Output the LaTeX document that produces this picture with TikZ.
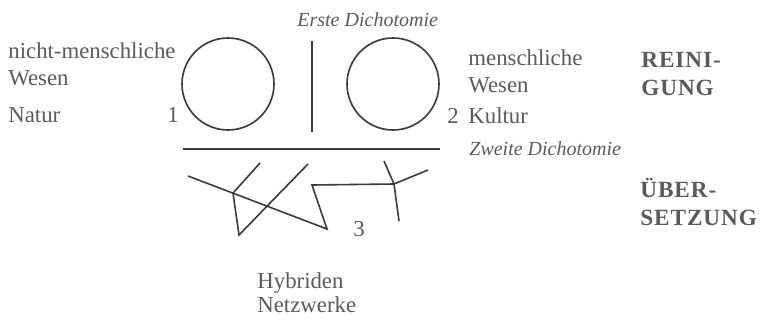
\documentclass[tikz,border=0pt]{standalone}
\usepackage{fontspec}
\setmainfont{Liberation Serif}
\usetikzlibrary{positioning}

\definecolor{inkgray}{HTML}{3A3A3A}
\definecolor{textgray}{HTML}{5A5A5A}

\begin{document}
\begin{tikzpicture}[
    x=0.5pt, y=-0.5pt,
    ring/.style={draw=inkgray, circle, line width=0.8pt, minimum size=46pt, inner sep=0pt},
    stroke/.style={draw=inkgray, line width=0.8pt},
    label/.style={text=textgray, inner sep=0pt, anchor=base west, align=left, font=\fontsize{11.4}{13.5}\selectfont},
    dicho/.style={label, font=\fontsize{10}{13}\selectfont\itshape},
    task/.style={label, font=\fontsize{11.6}{14}\selectfont\bfseries\addfontfeature{LetterSpace=4}},
    num/.style={label, font=\fontsize{11.4}{13.5}\selectfont}
]
\useasboundingbox (0,0) rectangle (764,321);

% Erste Dichotomie
\node[ring] (natur) at (228,84) {};
\node[ring] (kultur) at (393,84) {};
\coordinate (cuttop) at (312,41);
\coordinate (cutbot) at (312,132);
\draw[stroke] (cuttop) -- (cutbot);
\node[dicho] (erste) at (297,26) {Erste Dichotomie};

% last line sits on the anchor
\node[label] (nonhuman) at (8,85) {nicht-menschliche\\Wesen};
\node[label] (naturlbl) at (8,122) {Natur};
\node[num] (one) at (167,122) {1};

\node[label] (human) at (468,92) {menschliche\\Wesen};
\node[num] (two) at (447,123) {2};
\node[label] (kulturlbl) at (468,123) {Kultur};

% Zweite Dichotomie
\coordinate (splitL) at (183,149);
\coordinate (splitR) at (440,149);
\draw[stroke] (splitL) -- (splitR);
\node[dicho] (zweite) at (469,155) {Zweite Dichotomie};

% Netzwerke
\coordinate (n1) at (188,176);
\coordinate (n2) at (327,229);
\coordinate (n3) at (312,185);
\coordinate (hub) at (394,184);
\coordinate (hubA) at (384,161);
\coordinate (hubB) at (428,170);
\coordinate (hubC) at (399,221);
\coordinate (v1) at (260,163);
\coordinate (v2) at (233,193);
\coordinate (v3) at (239,235);
\coordinate (v4) at (308,164);
\draw[stroke] (n1) -- (n2) -- (n3) -- (hub);
\draw[stroke] (hubA) -- (hub) -- (hubC);
\draw[stroke] (hub) -- (hubB);
\draw[stroke] (v1) -- (v2) -- (v3) -- (v4);
\node[num] (three) at (353,236) {3};

\node[label, font=\fontsize{11.4}{12}\selectfont] (hybrid) at (257,312) {Hybriden\\Netzwerke};

% Arbeit
\node[task] (purify) at (641,95) {REINI-\\GUNG};
\node[task] (translate) at (640,225) {ÜBER-\\SETZUNG};

\end{tikzpicture}
\end{document}
